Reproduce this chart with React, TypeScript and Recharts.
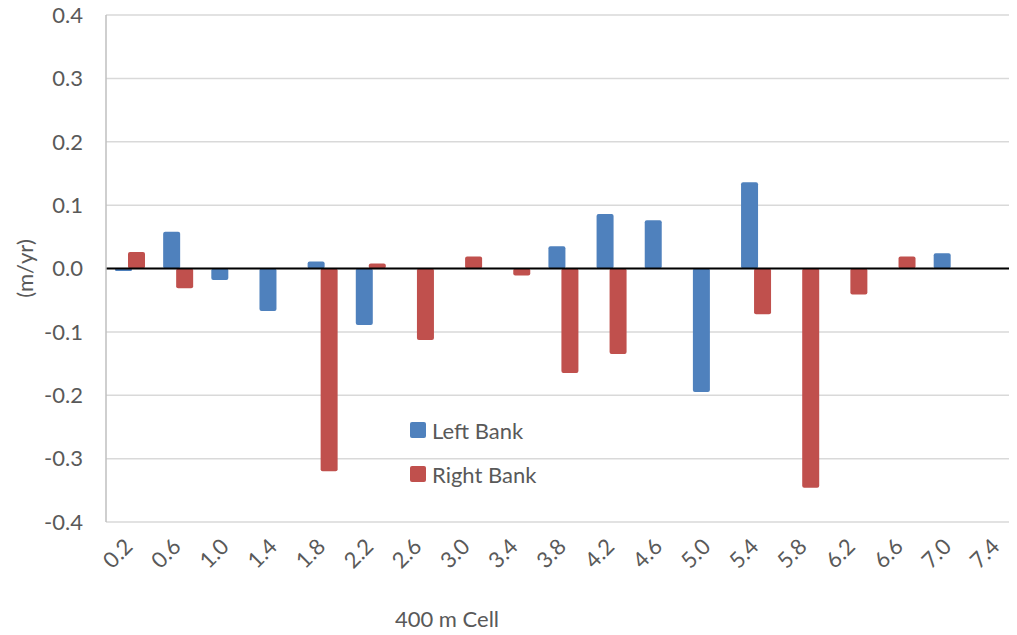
import React from "react";
import {
  BarChart,
  Bar,
  XAxis,
  YAxis,
  CartesianGrid,
  ReferenceLine,
} from "recharts";

const cells = [
  "0.2", "0.6", "1.0", "1.4", "1.8", "2.2", "2.6", "3.0", "3.4", "3.8",
  "4.2", "4.6", "5.0", "5.4", "5.8", "6.2", "6.6", "7.0", "7.4",
];

const leftBank = [
  -0.004, 0.058, -0.018, -0.067, 0.011, -0.089, 0, 0, 0, 0.035,
  0.086, 0.076, -0.195, 0.136, 0, 0, 0, 0.024, 0,
];

const rightBank = [
  0.026, -0.031, 0, 0, -0.32, 0.008, -0.113, 0.019, -0.011, -0.165,
  -0.135, 0, 0, -0.072, -0.346, -0.041, 0.019, 0, 0,
];

const yTicks = [-0.4, -0.3, -0.2, -0.1, 0, 0.1, 0.2, 0.3, 0.4];

const series = [
  { key: "left", name: "Left Bank", color: "#4F81BD" },
  { key: "right", name: "Right Bank", color: "#C0504D" },
];

const data = cells.map((cell, i) => ({
  cell,
  left: leftBank[i],
  right: rightBank[i],
}));

const TEXT = "#595959";
const FONT = "Lato, 'Open Sans', sans-serif";
const FS = 22;

const XTick = ({ x, y, payload }: any) => {
  const tx = x + 4;
  const ty = y + 18;
  return (
    <text
      x={tx}
      y={ty}
      transform={`rotate(-45 ${tx} ${ty})`}
      textAnchor="end"
      fill={TEXT}
      fontSize={FS}
      fontFamily={FONT}
    >
      {payload.value}
    </text>
  );
};

const YLabel = ({ viewBox }: any) => {
  const cx = 24;
  const cy = viewBox.y + viewBox.height / 2;
  return (
    <text
      x={cx}
      y={cy}
      transform={`rotate(-90 ${cx} ${cy})`}
      textAnchor="middle"
      dominantBaseline="central"
      fill={TEXT}
      fontSize={FS}
      fontFamily={FONT}
    >
      (m/yr)
    </text>
  );
};

const XLabel = ({ viewBox }: any) => (
  <text
    x={447}
    y={viewBox.y + 96}
    textAnchor="middle"
    dominantBaseline="central"
    fill={TEXT}
    fontSize={FS}
    fontFamily={FONT}
  >
    400 m Cell
  </text>
);

export default function App() {
  return (
    <div
      style={{
        margin: -8,
        width: 1017,
        height: 635,
        overflow: "hidden",
        background: "#fff",
        position: "relative",
      }}
    >
      <BarChart
        width={1030}
        height={635}
        data={data}
        margin={{ top: 15, right: 9, bottom: 0, left: 0 }}
        barSize={17}
        barGap={-4}
      >
        <CartesianGrid vertical={false} stroke="#D9D9D9" strokeWidth={1.5} />
        <XAxis
          dataKey="cell"
          height={113}
          axisLine={false}
          tickLine={false}
          interval={0}
          tick={<XTick />}
          label={<XLabel />}
        />
        <YAxis
          width={106}
          domain={[-0.4, 0.4]}
          ticks={yTicks}
          tickFormatter={(v: number) => v.toFixed(1)}
          tickLine={false}
          tickMargin={17}
          axisLine={{ stroke: "#BFBFBF", strokeWidth: 1.5 }}
          tick={{ fill: TEXT, fontSize: FS, fontFamily: FONT }}
          label={<YLabel />}
        />
        {series.map((s) => (
          <Bar
            key={s.key}
            dataKey={s.key}
            name={s.name}
            fill={s.color}
            radius={2}
            isAnimationActive={false}
          />
        ))}
        <ReferenceLine y={0} stroke="#000" strokeWidth={2} />
      </BarChart>
      <div
        style={{
          position: "absolute",
          left: 410,
          top: 408,
          fontFamily: FONT,
          fontSize: FS,
          color: TEXT,
        }}
      >
        {series.map((s) => (
          <div
            key={s.key}
            style={{ display: "flex", alignItems: "center", height: 44 }}
          >
            <span
              style={{
                width: 16,
                height: 16,
                background: s.color,
                borderRadius: 2,
                marginRight: 6,
              }}
            />
            {s.name}
          </div>
        ))}
      </div>
    </div>
  );
}
